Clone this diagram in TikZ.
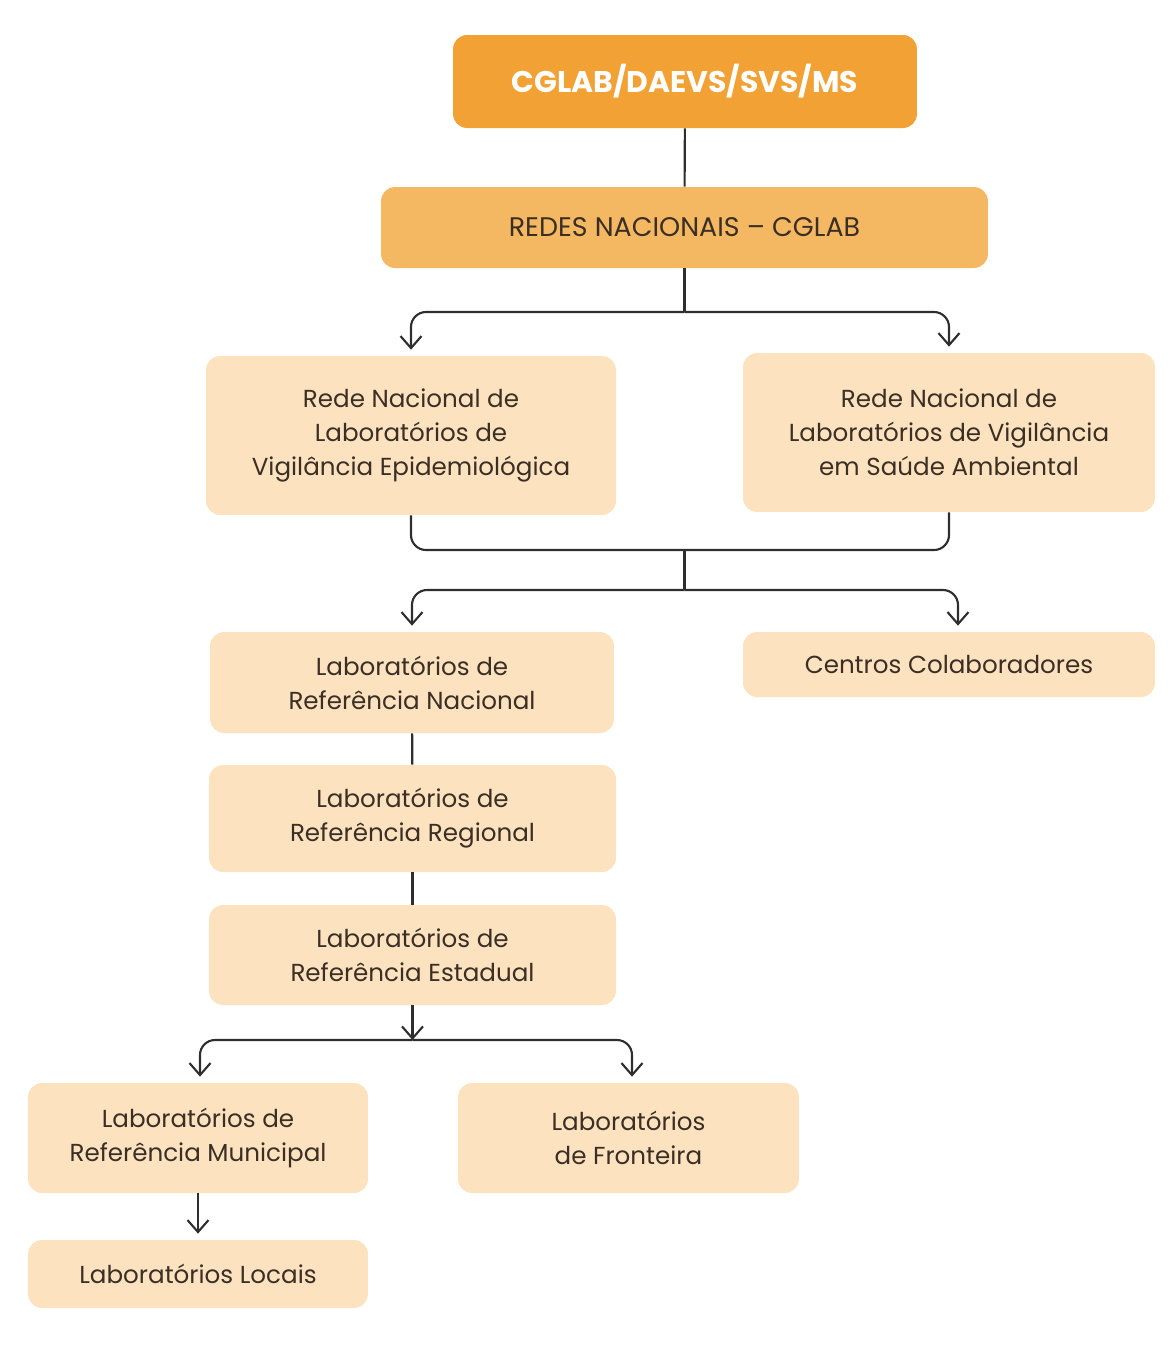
\documentclass[tikz,border=0pt]{standalone}
\usepackage{fontspec}
\setmainfont{Poppins}
\usetikzlibrary{arrows.meta, positioning}
\definecolor{topcol}{HTML}{F2A134}
\definecolor{midcol}{HTML}{F5B862}
\definecolor{boxcol}{HTML}{FCE2BF}
\definecolor{txtcol}{HTML}{3B2F25}
\definecolor{linecol}{HTML}{2E2E2E}
\begin{document}
\begin{tikzpicture}[
        x=0.02cm, y=-0.02cm,
        headbox/.style={rectangle, rounded corners=0.28cm, fill=topcol, text=white, align=center, font=\fontsize{17}{21}\selectfont\bfseries},
        netbox/.style={rectangle, rounded corners=0.28cm, fill=midcol, text=txtcol, align=center, font=\fontsize{15.3}{19}\selectfont},
        labbox/.style={rectangle, rounded corners=0.28cm, fill=boxcol, text=txtcol, align=center, font=\fontsize{14}{19.3}\selectfont},
        link/.style={draw=linecol, line width=1.2pt, rounded corners=0.3cm},
        arrow/.style={link, -{Straight Barb[length=2.4mm, width=4.2mm]}, shorten >=0.12cm}
    ]
    \useasboundingbox (0,0) rectangle (1175,1347);

    % Top levels
    \node (cglab) [headbox, minimum width=9.28cm, minimum height=1.86cm] at (685,81.5) {CGLAB/DAEVS/SVS/MS};
    \node (redes) [netbox, minimum width=12.14cm, minimum height=1.62cm] at (684.5,227.5) {REDES NACIONAIS -- CGLAB};

    % National networks
    \node (epi) [labbox, minimum width=8.2cm, minimum height=3.18cm] at (411,435.5) {Rede Nacional de\\Laboratórios de\\Vigilância Epidemiológica};
    \node (amb) [labbox, minimum width=8.24cm, minimum height=3.18cm] at (949,432.5) {Rede Nacional de\\Laboratórios de Vigilância\\em Saúde Ambiental};

    % Reference laboratories
    \node (nac) [labbox, minimum width=8.08cm, minimum height=2.02cm] at (412,682.5) {Laboratórios de\\Referência Nacional};
    \node (centros) [labbox, minimum width=8.24cm, minimum height=1.3cm] at (949,664.5) {Centros Colaboradores};
    \node (regional) [labbox, minimum width=8.14cm, minimum height=2.14cm] at (412.5,818.5) {Laboratórios de\\Referência Regional};
    \node (estadual) [labbox, minimum width=8.14cm, minimum height=2.0cm] at (412.5,955) {Laboratórios de\\Referência Estadual};

    % Bottom levels
    \node (municipal) [labbox, minimum width=6.8cm, minimum height=2.2cm] at (198,1138) {Laboratórios de\\Referência Municipal};
    \node (fronteira) [labbox, minimum width=6.82cm, minimum height=2.2cm] at (628.5,1138) {Laboratórios\\de Fronteira};
    \node (locais) [labbox, minimum width=6.8cm, minimum height=1.36cm] at (198,1274) {Laboratórios Locais};

    % Split points
    \coordinate (split1) at (684.5,312);
    \coordinate (join1) at (684.5,550);
    \coordinate (split2) at (684.5,590);
    \coordinate (split3) at (412.5,1040);

    % Connectors
    \draw [link] (cglab) -- (redes);
    \draw [link] (redes) -- (split1);
    \draw [arrow] (split1) -| (epi);
    \draw [arrow] (split1) -| (amb);

    \draw [link] (epi.south) |- (join1) -| (amb.south);
    \draw [link] (join1) -- (split2);
    \draw [arrow] (split2) -| (nac);
    \draw [arrow] (split2) -| ([xshift=0.18cm]centros.north);

    \draw [link] (nac) -- (regional);
    \draw [link] (regional) -- (estadual);

    \draw [arrow, shorten >=0pt] (estadual) -- (split3);
    \draw [arrow] (split3) -| ([xshift=0.04cm]municipal.north);
    \draw [arrow] (split3) -| ([xshift=0.07cm]fronteira.north);
    \draw [arrow] (municipal) -- (locais);
\end{tikzpicture}
\end{document}
